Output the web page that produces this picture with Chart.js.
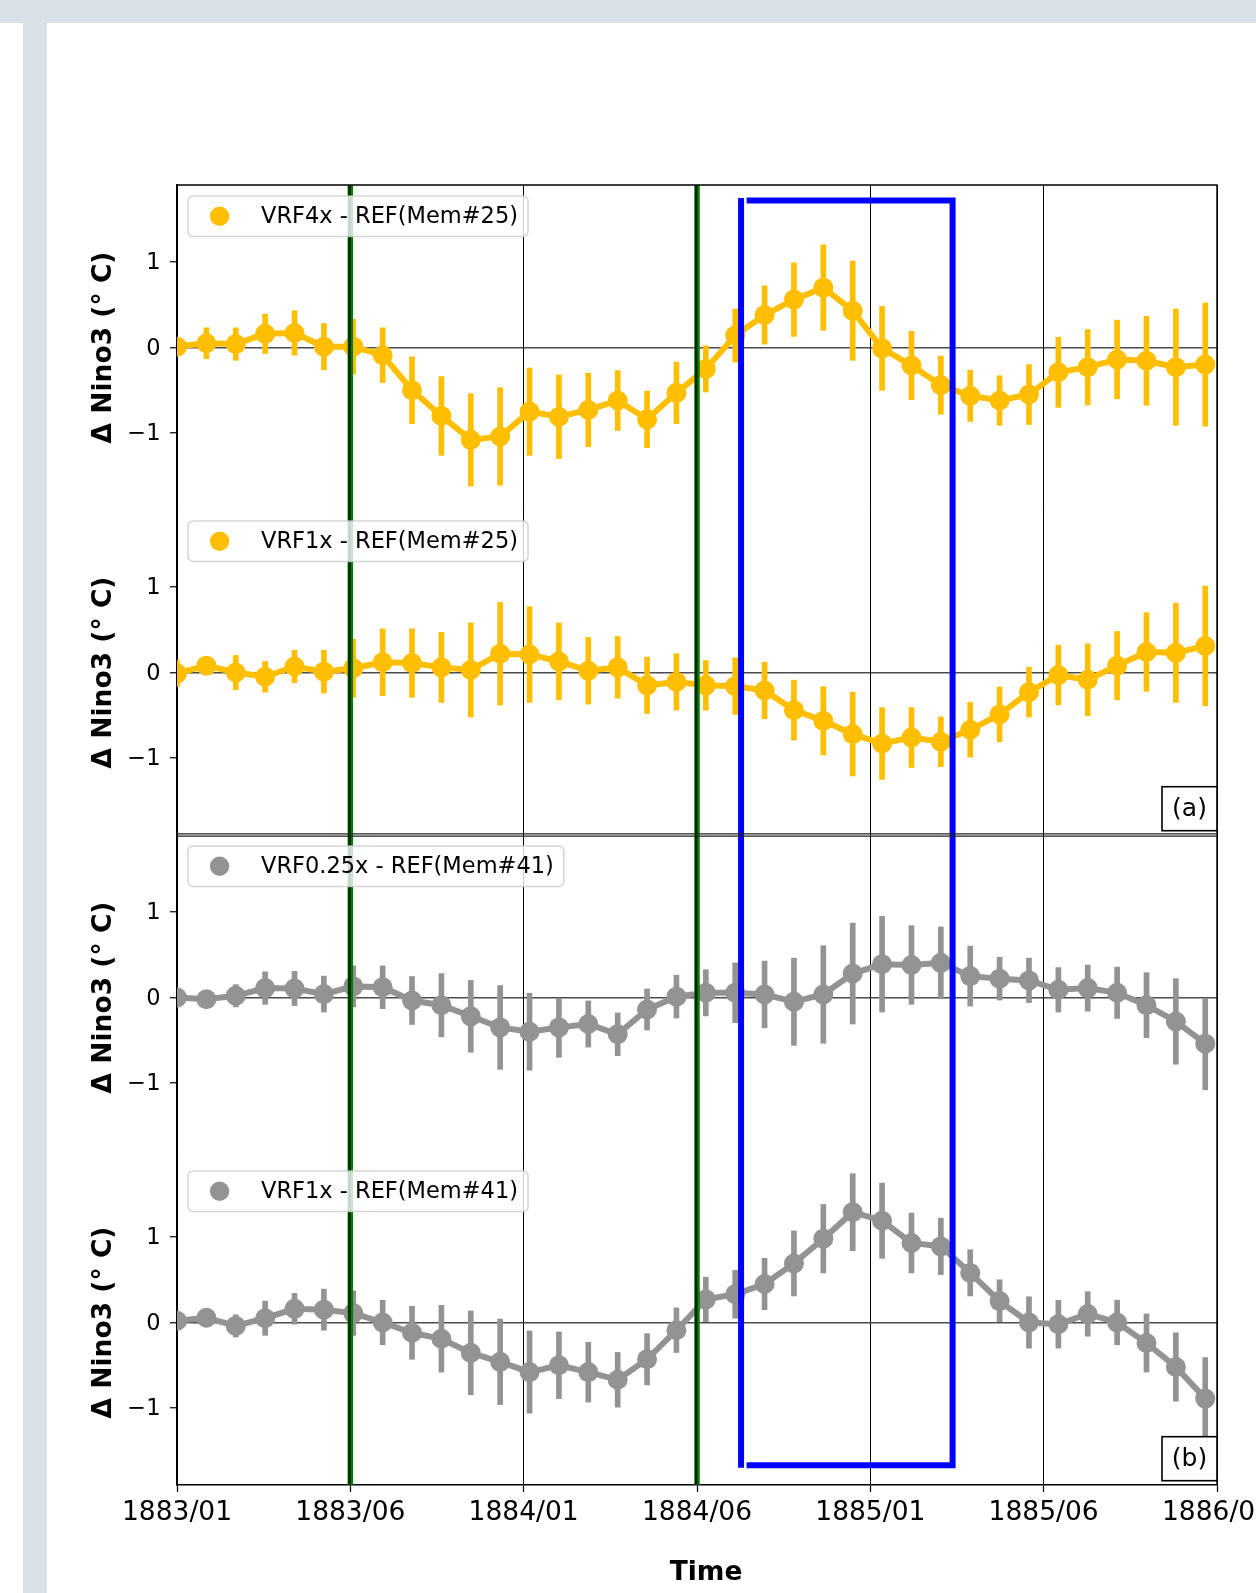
<!DOCTYPE html>
<html>
<head>
<meta charset="utf-8">
<script src="https://cdn.jsdelivr.net/npm/chart.js@4.4.1/dist/chart.umd.min.js"></script>
<style>
  html, body { margin: 0; padding: 0; background: #ffffff; overflow: hidden; }
  #bandTop { position: absolute; left: 0; top: 0; width: 1256px; height: 23px; background: #dae0e8; }
  #bandLeft { position: absolute; left: 23px; top: 23px; width: 24px; height: 1570px; background: #dae0e8; }
  #c { position: absolute; left: 0; top: 0; }
</style>
</head>
<body>
<div id="bandTop"></div>
<div id="bandLeft"></div>
<canvas id="c" width="1256" height="1593"></canvas>
<script>
// ---------------- data ----------------
const monthIndex = [0,1,2,3,4,5,6,7,8,9,10,11,12,13,14,15,16,17,18,19,20,21,22,23,24,25,26,27,28,29,30,31,32,33,34,35];
const xTickLabels = ['1883/01','1883/06','1884/01','1884/06','1885/01','1885/06','1886/01'];
const xMax = 35.4;
const yTickValues = [-1, 0, 1];
const yTitle = '\u0394 Nino3 (\u00b0 C)';
const xTitle = 'Time';

const seriesLabels = ['VRF4x - REF(Mem#25)', 'VRF1x - REF(Mem#25)', 'VRF0.25x - REF(Mem#41)', 'VRF1x - REF(Mem#41)'];

const vrf4x_m25 = [0.01,0.05,0.04,0.16,0.17,0.01,0.01,-0.09,-0.50,-0.80,-1.08,-1.04,-0.75,-0.81,-0.73,-0.62,-0.84,-0.53,-0.25,0.14,0.38,0.56,0.70,0.43,-0.01,-0.21,-0.44,-0.565,-0.62,-0.55,-0.29,-0.23,-0.14,-0.155,-0.23,-0.20];
const vrf4x_m25_err = [0.10,0.18,0.19,0.23,0.26,0.27,0.32,0.32,0.39,0.46,0.54,0.57,0.51,0.49,0.43,0.35,0.33,0.36,0.27,0.31,0.34,0.43,0.50,0.58,0.49,0.40,0.34,0.30,0.29,0.35,0.41,0.44,0.46,0.52,0.68,0.72];

const vrf1x_m25 = [-0.01,0.08,0.0,-0.05,0.07,0.01,0.05,0.12,0.11,0.06,0.03,0.22,0.21,0.13,0.02,0.06,-0.15,-0.11,-0.15,-0.16,-0.21,-0.44,-0.565,-0.72,-0.83,-0.76,-0.81,-0.67,-0.49,-0.23,-0.03,-0.085,0.08,0.24,0.23,0.31];
const vrf1x_m25_err = [0.15,0.10,0.20,0.18,0.19,0.25,0.34,0.39,0.40,0.41,0.55,0.60,0.56,0.45,0.39,0.36,0.33,0.33,0.29,0.33,0.33,0.35,0.40,0.49,0.42,0.35,0.29,0.32,0.32,0.29,0.35,0.42,0.40,0.46,0.58,0.70];

const vrf025x_m41 = [0.0,-0.02,0.02,0.11,0.105,0.04,0.13,0.12,-0.035,-0.09,-0.22,-0.35,-0.40,-0.35,-0.31,-0.43,-0.14,0.01,0.055,0.055,0.035,-0.05,0.035,0.28,0.39,0.38,0.405,0.25,0.22,0.20,0.09,0.11,0.055,-0.09,-0.28,-0.54];
const vrf025x_m41_err = [0.08,0.08,0.13,0.19,0.20,0.21,0.24,0.25,0.28,0.37,0.42,0.49,0.45,0.35,0.27,0.25,0.24,0.25,0.27,0.35,0.39,0.51,0.57,0.59,0.56,0.46,0.42,0.35,0.25,0.26,0.26,0.27,0.30,0.38,0.50,0.54];

const vrf1x_m41 = [0.02,0.055,-0.04,0.05,0.16,0.15,0.11,0.0,-0.12,-0.19,-0.355,-0.46,-0.58,-0.50,-0.58,-0.67,-0.43,-0.09,0.27,0.33,0.45,0.69,0.98,1.29,1.19,0.93,0.89,0.58,0.25,0.0,-0.02,0.10,0.0,-0.24,-0.52,-0.89];
const vrf1x_m41_err = [0.08,0.08,0.13,0.20,0.18,0.24,0.26,0.26,0.31,0.39,0.49,0.50,0.48,0.39,0.35,0.32,0.30,0.26,0.26,0.28,0.30,0.38,0.40,0.45,0.44,0.35,0.33,0.27,0.25,0.30,0.28,0.26,0.26,0.34,0.40,0.48];

// event markers (x in month index units) and highlight box
const eventX = [5.9, 17.7];
const boxX = [19.2, 26.4];
const boxYTop = 1.72;     // on the first sub-panel axis
const boxYBottom = -1.67; // on the last sub-panel axis
const panelLetters = ['(a)', '(b)'];

const GOLD = '#ffbf00';
const GREY = '#939393';
const FONT = '"DejaVu Sans", "Liberation Sans", sans-serif';

// ---------------- datasets ----------------
function makeSeries(vals, errs, color, axisId) {
  return [
    {
      type: 'line', yAxisID: axisId,
      data: monthIndex.map((x, i) => ({ x: x, y: vals[i] })),
      borderColor: color, backgroundColor: color, borderWidth: 6,
      pointRadius: 10, pointHoverRadius: 10, pointBackgroundColor: color, pointBorderWidth: 0,
      tension: 0, clip: 0, order: 1
    },
    {
      type: 'bar', yAxisID: axisId,
      data: monthIndex.map((x, i) => ({ x: x, y: [vals[i] - errs[i], vals[i] + errs[i]] })),
      backgroundColor: color, borderWidth: 0, barThickness: 5, grouped: false, clip: 0, order: 2
    }
  ];
}

const datasets = [].concat(
  makeSeries(vrf4x_m25, vrf4x_m25_err, GOLD, 'y1'),
  makeSeries(vrf1x_m25, vrf1x_m25_err, GOLD, 'y2'),
  makeSeries(vrf025x_m41, vrf025x_m41_err, GREY, 'y3'),
  makeSeries(vrf1x_m41, vrf1x_m41_err, GREY, 'y4')
);
const legendColors = [GOLD, GOLD, GREY, GREY];

function yAxis() {
  return {
    type: 'linear', position: 'left', stack: 'panels', stackWeight: 1,
    min: -1.9, max: 1.9,
    afterBuildTicks: s => { s.ticks = yTickValues.map(v => ({ value: v })); },
    afterFit: s => { s.width = 177; s.paddingTop = 0; s.paddingBottom = 0; },
    ticks: {
      font: { family: FONT, size: 22.5 }, color: '#000', padding: 9.5, labelOffset: 1.5,
      callback: v => (v < 0 ? '\u2212' + Math.abs(v) : String(v))
    },
    grid: {
      color: c => (c.tick && c.tick.value === 0 ? 'rgba(0,0,0,0.7)' : 'rgba(0,0,0,0)'),
      lineWidth: 1.5, tickLength: 7, tickColor: '#000', tickWidth: 1.2
    },
    border: { color: '#000', width: 1.4 },
    title: {
      display: true, text: yTitle, color: '#000',
      font: { family: FONT, size: 26.5, weight: 'bold' },
      padding: { top: 88, bottom: 0 }
    }
  };
}

function roundRect(ctx, x, y, w, h, r) {
  ctx.beginPath();
  ctx.moveTo(x + r, y);
  ctx.lineTo(x + w - r, y);
  ctx.arcTo(x + w, y, x + w, y + r, r);
  ctx.lineTo(x + w, y + h - r);
  ctx.arcTo(x + w, y + h, x + w - r, y + h, r);
  ctx.lineTo(x + r, y + h);
  ctx.arcTo(x, y + h, x, y + h - r, r);
  ctx.lineTo(x, y + r);
  ctx.arcTo(x, y, x + r, y, r);
  ctx.closePath();
}

const overlayPlugin = {
  id: 'overlay',
  afterDatasetsDraw(chart) {
    const ctx = chart.ctx, ca = chart.chartArea, xs = chart.scales.x;
    ctx.save();
    // green event lines
    eventX.forEach(v => {
      const px = xs.getPixelForValue(v);
      ctx.strokeStyle = '#008000'; ctx.lineWidth = 5.5;
      ctx.beginPath(); ctx.moveTo(px, ca.top); ctx.lineTo(px, ca.bottom); ctx.stroke();
      ctx.strokeStyle = 'rgba(0,20,0,0.9)'; ctx.lineWidth = 2.4;
      ctx.beginPath(); ctx.moveTo(px - 0.8, ca.top); ctx.lineTo(px - 0.8, ca.bottom); ctx.stroke();
    });
    // blue box
    const xl = xs.getPixelForValue(boxX[0]), xr = xs.getPixelForValue(boxX[1]);
    const yt = chart.scales.y1.getPixelForValue(boxYTop);
    const yb = chart.scales.y4.getPixelForValue(boxYBottom);
    ctx.strokeStyle = '#0000ff'; ctx.lineWidth = 6; ctx.lineCap = 'butt';
    ctx.beginPath();
    ctx.moveTo(xl, yt - 2.5); ctx.lineTo(xl, yb + 2.5);
    ctx.moveTo(xl + 5.5, yt); ctx.lineTo(xr + 3, yt);
    ctx.moveTo(xr, yt - 2.5); ctx.lineTo(xr, yb + 3);
    ctx.moveTo(xl + 5.5, yb); ctx.lineTo(xr + 3, yb);
    ctx.stroke();
    ctx.restore();
  },
  afterDraw(chart) {
    const ctx = chart.ctx, ca = chart.chartArea;
    const axes = ['y1', 'y2', 'y3', 'y4'].map(id => chart.scales[id]);
    ctx.save();
    // frame: top, right
    ctx.strokeStyle = '#000'; ctx.lineWidth = 1.4;
    ctx.beginPath();
    ctx.moveTo(ca.left, ca.top); ctx.lineTo(ca.right, ca.top); ctx.lineTo(ca.right, ca.bottom);
    ctx.stroke();
    // separator between panel (a) and (b)
    const sepY = axes[1].bottom;
    ctx.strokeStyle = '#222'; ctx.lineWidth = 1.2;
    ctx.beginPath();
    ctx.moveTo(ca.left, sepY - 1.1); ctx.lineTo(ca.right, sepY - 1.1);
    ctx.moveTo(ca.left, sepY + 1.2); ctx.lineTo(ca.right, sepY + 1.2);
    ctx.stroke();
    // legends
    ctx.font = '22.5px ' + FONT;
    axes.forEach((s, k) => {
      const label = seriesLabels[k];
      const tw = ctx.measureText(label).width;
      const lx = ca.left + 11, ly = s.top + 11, w = 73 + tw + 10, h = 40.5;
      roundRect(ctx, lx, ly, w, h, 5);
      ctx.fillStyle = 'rgba(255,255,255,0.8)'; ctx.fill();
      ctx.strokeStyle = 'rgba(204,204,204,0.8)'; ctx.lineWidth = 1.6; ctx.stroke();
      ctx.fillStyle = legendColors[k];
      ctx.beginPath(); ctx.arc(lx + 31.6, ly + h / 2, 9.7, 0, Math.PI * 2); ctx.fill();
      ctx.fillStyle = '#000'; ctx.textAlign = 'left'; ctx.textBaseline = 'middle';
      ctx.fillText(label, lx + 73, ly + h / 2 + 1);
    });
    // panel letters
    [axes[1], axes[3]].forEach((s, k) => {
      const bw = 55, bh = 44;
      const bx = ca.right - bw, by = s.bottom - 4.3 - bh;
      ctx.fillStyle = '#fff'; ctx.fillRect(bx, by, bw, bh);
      ctx.strokeStyle = '#000'; ctx.lineWidth = 1.6; ctx.strokeRect(bx, by, bw, bh);
      ctx.fillStyle = '#000'; ctx.font = '25px ' + FONT;
      ctx.textAlign = 'center'; ctx.textBaseline = 'middle';
      ctx.fillText(panelLetters[k], bx + bw / 2, by + bh / 2 + 1);
    });
    // x axis title (figure-centred, slightly right of the axes centre)
    ctx.fillStyle = '#000'; ctx.font = 'bold 26.5px ' + FONT;
    ctx.textAlign = 'center'; ctx.textBaseline = 'alphabetic';
    ctx.fillText(xTitle, (ca.left + ca.right) / 2 + 9, ca.bottom + 95);
    ctx.restore();
  }
};

new Chart(document.getElementById('c').getContext('2d'), {
  type: 'line',
  data: { datasets: datasets },
  options: {
    responsive: false, animation: false, devicePixelRatio: 1, events: [],
    layout: { padding: { top: 185, right: 39, left: 0, bottom: 0 } },
    plugins: { legend: { display: false }, tooltip: { enabled: false } },
    scales: {
      x: {
        type: 'linear', min: 0, max: xMax, offset: false,
        afterBuildTicks: s => { s.ticks = xTickLabels.map((l, k) => ({ value: k * xMax / (xTickLabels.length - 1) })); },
        afterFit: s => { s.height = 108; s.paddingLeft = 0; s.paddingRight = 0; },
        ticks: {
          autoSkip: false, maxRotation: 0, minRotation: 0, color: '#000', padding: 5,
          font: { family: FONT, size: 26.5 },
          callback: (v, i) => xTickLabels[i]
        },
        grid: { offset: false, color: '#000', lineWidth: 1, tickLength: 7, tickColor: '#000', tickWidth: 1.2 },
        border: { color: '#000', width: 1.4 },
        title: { display: false }
      },
      // declared bottom-to-top: Chart.js stacks left axes in reverse declaration order
      y4: yAxis(), y3: yAxis(), y2: yAxis(), y1: yAxis()
    }
  },
  plugins: [overlayPlugin]
});
</script>
</body>
</html>
